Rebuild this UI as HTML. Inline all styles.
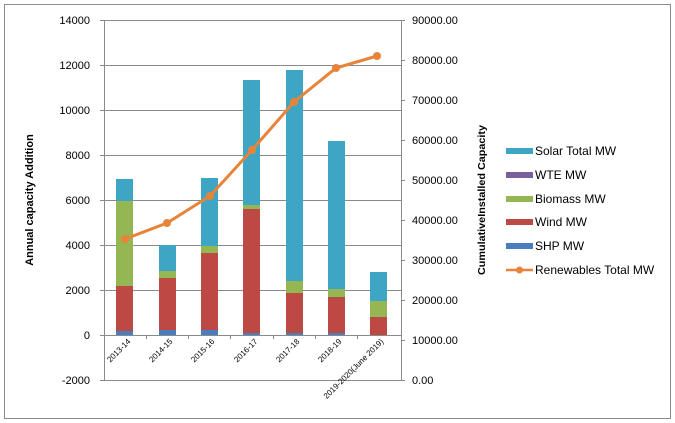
<!DOCTYPE html>
<html><head><meta charset="utf-8"><style>
html,body{margin:0;padding:0;background:#fff;}
svg{display:block;font-family:"Liberation Sans",sans-serif;}
</style></head><body>
<svg width="675" height="423" viewBox="0 0 675 423" xmlns="http://www.w3.org/2000/svg">
<rect x="4.5" y="4.5" width="666" height="414" fill="#fff" stroke="#8c8c8c" stroke-width="1"/>
<g stroke="#8a8a8a" stroke-width="1">
<line x1="104" y1="20.5" x2="401" y2="20.5"/>
<line x1="104" y1="65.5" x2="401" y2="65.5"/>
<line x1="104" y1="110.5" x2="401" y2="110.5"/>
<line x1="104" y1="155.5" x2="401" y2="155.5"/>
<line x1="104" y1="200.5" x2="401" y2="200.5"/>
<line x1="104" y1="245.5" x2="401" y2="245.5"/>
<line x1="104" y1="290.5" x2="401" y2="290.5"/>
<line x1="104" y1="335.5" x2="401" y2="335.5"/>
<line x1="104" y1="380.5" x2="401" y2="380.5"/>
</g>
<g>
<rect x="116" y="179" width="17" height="22" fill="#3ea6c4"/>
<rect x="116" y="201" width="17" height="85" fill="#94b653"/>
<rect x="116" y="286" width="17" height="45" fill="#bd4944"/>
<rect x="116" y="331" width="17" height="4" fill="#4a7dbd"/>
<rect x="159" y="245" width="17" height="26" fill="#3ea6c4"/>
<rect x="159" y="271" width="17" height="7" fill="#94b653"/>
<rect x="159" y="278" width="17" height="52" fill="#bd4944"/>
<rect x="159" y="330" width="17" height="5" fill="#4a7dbd"/>
<rect x="201" y="178" width="17" height="68" fill="#3ea6c4"/>
<rect x="201" y="246" width="17" height="7" fill="#94b653"/>
<rect x="201" y="253" width="17" height="77" fill="#bd4944"/>
<rect x="201" y="330" width="17" height="5" fill="#4a7dbd"/>
<rect x="243" y="80" width="17" height="125" fill="#3ea6c4"/>
<rect x="243" y="205" width="17" height="4" fill="#94b653"/>
<rect x="243" y="209" width="17" height="124" fill="#bd4944"/>
<rect x="243" y="333" width="17" height="2" fill="#4a7dbd"/>
<rect x="286" y="70" width="17" height="211" fill="#3ea6c4"/>
<rect x="286" y="281" width="17" height="12" fill="#94b653"/>
<rect x="286" y="293" width="17" height="40" fill="#bd4944"/>
<rect x="286" y="333" width="17" height="2" fill="#4a7dbd"/>
<rect x="328" y="141" width="17" height="148" fill="#3ea6c4"/>
<rect x="328" y="289" width="17" height="8" fill="#94b653"/>
<rect x="328" y="297" width="17" height="36" fill="#bd4944"/>
<rect x="328" y="333" width="17" height="2" fill="#4a7dbd"/>
<rect x="370" y="272" width="17" height="29" fill="#3ea6c4"/>
<rect x="370" y="301" width="17" height="16" fill="#94b653"/>
<rect x="370" y="317" width="17" height="18" fill="#bd4944"/>
</g>
<g stroke="#8a8a8a" stroke-width="1">
<line x1="104.5" y1="20" x2="104.5" y2="381"/>
<line x1="401.5" y1="20" x2="401.5" y2="381"/>
<line x1="100" y1="20.5" x2="104" y2="20.5"/><line x1="100" y1="65.5" x2="104" y2="65.5"/><line x1="100" y1="110.5" x2="104" y2="110.5"/><line x1="100" y1="155.5" x2="104" y2="155.5"/><line x1="100" y1="200.5" x2="104" y2="200.5"/><line x1="100" y1="245.5" x2="104" y2="245.5"/><line x1="100" y1="290.5" x2="104" y2="290.5"/><line x1="100" y1="335.5" x2="104" y2="335.5"/><line x1="100" y1="380.5" x2="104" y2="380.5"/>
<line x1="401" y1="20.5" x2="405" y2="20.5"/><line x1="401" y1="60.5" x2="405" y2="60.5"/><line x1="401" y1="100.5" x2="405" y2="100.5"/><line x1="401" y1="140.5" x2="405" y2="140.5"/><line x1="401" y1="180.5" x2="405" y2="180.5"/><line x1="401" y1="220.5" x2="405" y2="220.5"/><line x1="401" y1="260.5" x2="405" y2="260.5"/><line x1="401" y1="300.5" x2="405" y2="300.5"/><line x1="401" y1="340.5" x2="405" y2="340.5"/><line x1="401" y1="380.5" x2="405" y2="380.5"/>
<line x1="146.5" y1="335" x2="146.5" y2="339"/><line x1="188.5" y1="335" x2="188.5" y2="339"/><line x1="230.5" y1="335" x2="230.5" y2="339"/><line x1="273.5" y1="335" x2="273.5" y2="339"/><line x1="315.5" y1="335" x2="315.5" y2="339"/><line x1="357.5" y1="335" x2="357.5" y2="339"/>
</g>
<g font-size="11" text-anchor="end" fill="#000">
<text x="90" y="24">14000</text><text x="90" y="69">12000</text><text x="90" y="114">10000</text><text x="90" y="159">8000</text><text x="90" y="204">6000</text><text x="90" y="249">4000</text><text x="90" y="294">2000</text><text x="90" y="339">0</text><text x="90" y="384">-2000</text>
</g>
<g font-size="11" fill="#000">
<text x="412" y="24">90000.00</text><text x="412" y="64">80000.00</text><text x="412" y="104">70000.00</text><text x="412" y="144">60000.00</text><text x="412" y="184">50000.00</text><text x="412" y="224">40000.00</text><text x="412" y="264">30000.00</text><text x="412" y="304">20000.00</text><text x="412" y="344">10000.00</text><text x="412" y="384">0.00</text>
</g>
<g font-size="8" text-anchor="end" fill="#000">
<text transform="translate(131,342) rotate(-45)">2013-14</text>
<text transform="translate(173,342) rotate(-45)">2014-15</text>
<text transform="translate(215,342) rotate(-45)">2015-16</text>
<text transform="translate(258,342) rotate(-45)">2016-17</text>
<text transform="translate(300,342) rotate(-45)">2017-18</text>
<text transform="translate(342,342) rotate(-45)">2018-19</text>
<text transform="translate(384,342) rotate(-45)">2019-2020(June 2019)</text>
</g>
<text transform="translate(33,200) rotate(-90)" font-size="11" font-weight="bold" text-anchor="middle">Annual capacity Addition</text>
<text transform="translate(485,200) rotate(-90)" font-size="10.5" font-weight="bold" text-anchor="middle" textLength="150" lengthAdjust="spacingAndGlyphs">CumulativeInstalled Capacity</text>
<polyline points="125,239 167,223 210,196 252,150 294,102 336,68 377,56" fill="none" stroke="#e8833a" stroke-width="3"/>
<g fill="#e8833a">
<circle cx="125" cy="239" r="4"/><circle cx="167" cy="223" r="4"/><circle cx="210" cy="196" r="4"/><circle cx="252" cy="150" r="4"/><circle cx="294" cy="102" r="4"/><circle cx="336" cy="68" r="4"/><circle cx="377" cy="56" r="4"/>
</g>
<g font-size="12" fill="#000">
<rect x="506" y="148" width="27" height="6" fill="#3ea6c4"/><text x="535" y="155">Solar Total MW</text>
<rect x="506" y="172" width="27" height="6" fill="#7a5fa0"/><text x="535" y="179">WTE MW</text>
<rect x="506" y="196" width="27" height="6" fill="#94b653"/><text x="535" y="203">Biomass MW</text>
<rect x="506" y="219" width="27" height="6" fill="#bd4944"/><text x="535" y="226">Wind MW</text>
<rect x="506" y="243" width="27" height="6" fill="#4a7dbd"/><text x="535" y="250">SHP MW</text>
<line x1="506" y1="270" x2="533" y2="270" stroke="#e8833a" stroke-width="2.5"/><circle cx="519.5" cy="270" r="3.5" fill="#e8833a"/><text x="535" y="274">Renewables Total MW</text>
</g>
</svg>
</body></html>
